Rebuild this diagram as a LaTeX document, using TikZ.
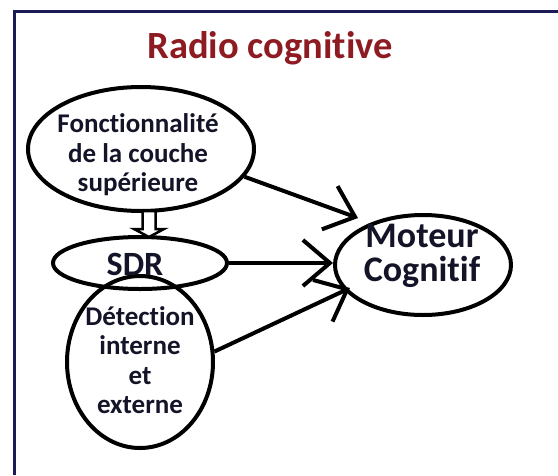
\documentclass[tikz,border=0pt]{standalone}
\usepackage{fontspec}
\setmainfont{Carlito}[Ligatures=NoCommon]
\usetikzlibrary{shapes.geometric,arrows.meta}
\definecolor{framecol}{HTML}{1B1B55}
\definecolor{titlecol}{HTML}{8E1B22}
\definecolor{inkcol}{HTML}{141428}
\tikzset{
  frameline/.style={draw=framecol, line width=3pt},
  bubble/.style={ellipse, draw=black, line width=4pt, inner sep=0pt},
  lbl/.style={text=inkcol, font=\bfseries\fontsize{27}{29.5}\selectfont, align=center, inner sep=0pt},
  biglbl/.style={text=inkcol, font=\bfseries\fontsize{36}{34}\selectfont, align=center, inner sep=0pt},
  flow/.style={draw=black, line width=4pt, -{Straight Barb[length=27pt,width=46pt]}},
  hollow/.style={draw=black, line width=2.5pt, fill=white, line join=miter}
}
\begin{document}
\begin{tikzpicture}[x=1pt,y=-1pt]
  \useasboundingbox (0,0) rectangle (558,475);
  % outer frame, open on the right and bottom
  \draw[frameline] (558,11) -- (14,11) -- (14,475);

  % title
  \node[text=titlecol, font=\bfseries\fontsize{38.5}{42}\selectfont, inner sep=0pt] (title) at (270,48) {Radio cognitive};

  % bubbles
  \node[bubble, minimum width=226pt, minimum height=124pt] (e1) at (141,149) {};
  \node[bubble, minimum width=174pt, minimum height=52pt] (sdr) at (140,263) {};
  \node[bubble, minimum width=146pt, minimum height=172pt] (det) at (140,362) {};
  \node[bubble, minimum width=176pt, minimum height=100pt] (mot) at (423,265) {};

  % bubble texts
  \node[lbl] (e1t) at (138,155) {Fonctionnalité\\de la couche\\supérieure};
  \node[lbl, font=\bfseries\fontsize{34}{36}\selectfont] (sdrt) at (135,264) {SDR};
  \node[lbl] (dett) at (140,360) {Détection\\interne\\et\\externe};
  \node[biglbl] (mott) at (422,256) {Moteur\\Cognitif};

  % arrow tips near the engine bubble
  \coordinate (t1) at (358,218);
  \coordinate (t3) at (350,288);

  % connectors
  \draw[flow] (e1.-15) -- (t1);
  \draw[flow] (sdr.east) -- (sdr.east -| mot.west);
  \draw[flow] (det.8) -- (t3);

  % hollow arrow from the upper layer down to the SDR
  \coordinate (ha) at (149,211);
  \draw[hollow] (ha) ++(-6.5,0) -- ++(0,18) -- ++(-8.5,0) -- (149,237)
      -- ++(15,-8) -- ++(-8.5,0) -- ++(0,-18) -- cycle;
\end{tikzpicture}
\end{document}
